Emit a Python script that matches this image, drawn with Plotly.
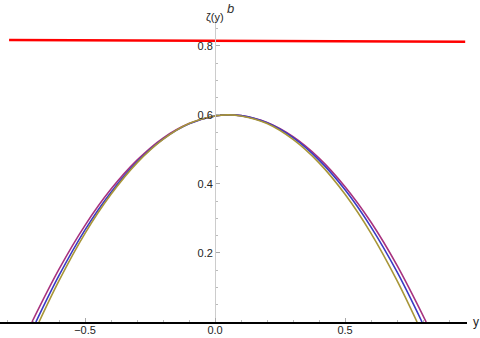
import plotly.graph_objects as go

# 读取自图像的数据
y_magenta = [-0.704, -0.6, -0.5, -0.4, -0.3, -0.2, -0.1, 0.0, 0.054, 0.1, 0.2, 0.3, 0.4, 0.5, 0.6, 0.7, 0.812]
z_magenta = [0.0, 0.153, 0.280, 0.385, 0.469, 0.533, 0.575, 0.597, 0.600, 0.598, 0.578, 0.537, 0.475, 0.392, 0.289, 0.164, 0.0]

y_blue = [-0.689, -0.6, -0.5, -0.4, -0.3, -0.2, -0.1, 0.0, 0.054, 0.1, 0.2, 0.3, 0.4, 0.5, 0.6, 0.7, 0.796]
z_blue = [0.0, 0.135, 0.267, 0.376, 0.464, 0.530, 0.574, 0.597, 0.600, 0.598, 0.577, 0.534, 0.469, 0.383, 0.275, 0.145, 0.0]

y_gold = [-0.677, -0.6, -0.5, -0.4, -0.3, -0.2, -0.1, 0.0, 0.05, 0.1, 0.2, 0.3, 0.4, 0.5, 0.6, 0.7, 0.777]
z_gold = [0.0, 0.120, 0.257, 0.370, 0.461, 0.529, 0.575, 0.597, 0.600, 0.597, 0.575, 0.529, 0.461, 0.370, 0.257, 0.120, 0.0]

y_red = [-0.792, 0.962]
z_red = [0.817, 0.812]

x_range = [-0.827, 0.969]
y_range = [0.0, 0.875]

fig = go.Figure()

# 三条曲线
for xs, ys, col in [(y_magenta, z_magenta, '#a8327e'),
                    (y_blue, z_blue, '#3a3ac4'),
                    (y_gold, z_gold, '#a89638')]:
    fig.add_trace(go.Scatter(x=xs, y=ys, mode='lines',
                             line=dict(color=col, width=1.6, shape='spline'),
                             showlegend=False))

# 红线
fig.add_trace(go.Scatter(x=y_red, y=z_red, mode='lines',
                         line=dict(color='#ff0000', width=2.6),
                         showlegend=False))

fig.update_layout(
    width=480, height=338,
    margin=dict(l=0, r=13, t=20, b=16),
    paper_bgcolor='white', plot_bgcolor='white',
    font=dict(family='Liberation Sans, Arial, sans-serif', size=11, color='#222'),
    xaxis=dict(range=x_range, showgrid=False, zeroline=False, automargin=False,
               showline=True, linecolor='black', linewidth=2,
               ticks='inside', ticklen=4, tickcolor='#aaaaaa', tickwidth=1,
               tickvals=[-0.5, 0.0, 0.5], ticktext=['\u22120.5', '0.0', '0.5'],
               ticklabelstandoff=-3,
               minor=dict(dtick=0.1, tick0=0, ticks='inside', ticklen=2, tickcolor='#bbbbbb'),
               fixedrange=True),
    yaxis=dict(range=y_range, showgrid=False, zeroline=False, automargin=False,
               anchor='free', position=0.827 / 1.796,
               showline=True, linecolor='#cccccc', linewidth=1,
               ticks='inside', ticklen=4, tickcolor='#aaaaaa', tickwidth=1,
               tickvals=[0.2, 0.4, 0.6, 0.8], ticktext=['0.2', '0.4', '0.6', '0.8'],
               minor=dict(dtick=0.05, tick0=0, ticks='inside', ticklen=2, tickcolor='#bbbbbb'),
               fixedrange=True),
    annotations=[
        dict(text='\u03b6(y)', x=0, xref='x', y=1, yref='paper',
             xanchor='center', yanchor='middle', yshift=3, showarrow=False,
             font=dict(size=11, color='#222')),
        dict(text='<i>b</i>', x=0.06, xref='x', y=1 + 20 / 302, yref='paper',
             xanchor='center', yanchor='top', yshift=1, showarrow=False,
             font=dict(size=13, color='#333')),
        dict(text='y', x=1, xref='paper', y=0, yref='y',
             xanchor='left', yanchor='middle', xshift=4, showarrow=False,
             font=dict(size=12, color='#222')),
    ],
)

fig.write_html("out.html", config=dict(displayModeBar=False),
               post_script="document.body.style.margin='0';")
